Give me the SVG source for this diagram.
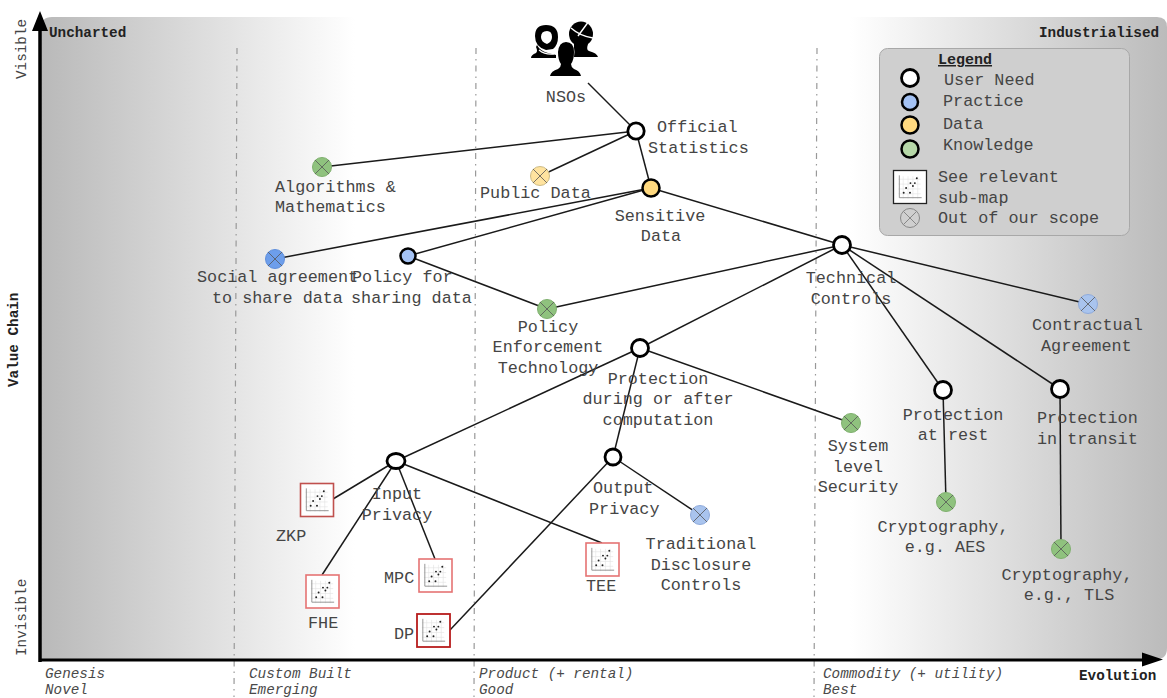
<svg xmlns="http://www.w3.org/2000/svg" width="1167" height="698" viewBox="0 0 1167 698">
<style>
text{font-family:"Liberation Mono","DejaVu Sans Mono",monospace;font-size:16.8px;fill:#454545}
.s{font-size:14.3px}
.b{font-size:14.3px;font-weight:bold;fill:#222}
.i{font-size:14.3px;font-style:italic;fill:#4a4a4a}
.m{text-anchor:middle}
.c{stroke:#1a1a1a;stroke-width:1.5;fill:none}
.d{stroke:#999;stroke-width:1.2;stroke-dasharray:6 5 1.5 5;fill:none}
.u{fill:#fff;stroke:#000;stroke-width:2.8}
.gk{fill:#8fc27e;stroke:#7fb06e}
.bk{fill:#a9c4ee;stroke:#8fabdc}
.bd{fill:#6d9eeb;stroke:#5f8fdc}
.yk{fill:#ffe39f;stroke:#cdbb86}
.xl{stroke:#555;stroke-width:.8;fill:none}
</style>
<defs>
<linearGradient id="gl" x1="0" x2="1" y1="0" y2="0"><stop offset="0" stop-color="#b9b9b9"/><stop offset="1" stop-color="#fff"/></linearGradient>
<linearGradient id="gr" x1="0" x2="1" y1="0" y2="0"><stop offset="0" stop-color="#fff"/><stop offset="1" stop-color="#bbb"/></linearGradient>
<symbol id="plot" viewBox="0 0 34 34">
<rect x="0" y="0" width="34" height="34" fill="#fff"/>
<path d="M5 9H28M5 14H28M5 19H28M5 24H28M10 6V29M15 6V29M20 6V29M25 6V29" stroke="#e2e2e2" stroke-width=".6" fill="none"/>
<path d="M6 5V28H29" stroke="#888" stroke-width=".9" fill="none"/>
<g fill="#222"><circle cx="10.500" cy="23" r="1"/><circle cx="17" cy="23" r="1"/><circle cx="13" cy="18" r="1"/><circle cx="20" cy="16" r="1"/><circle cx="17.500" cy="13" r="1"/><circle cx="22" cy="13" r="1"/><circle cx="24" cy="8" r="1"/></g>
</symbol>
<g id="xm"><path class="xl" d="M-7 -7L7 7M-7 7L7 -7"/></g>
</defs>

<g id="background">
<path d="M52 17H355V659H41V28Q41 17 52 17Z" fill="url(#gl)"/>
<path d="M850 17H1157Q1167 17 1167 27V648Q1167 659 1157 659H850Z" fill="url(#gr)"/>
<path class="d" d="M237 48L234 697"/>
<path class="d" d="M476 48L474 697"/>
<path class="d" d="M817 48L814 697"/>
</g>

<g id="axes">
<path d="M40 662V28" stroke="#000" stroke-width="3.500" fill="none"/>
<path d="M40 11L32 31H48Z" fill="#000"/>
<path d="M39 660H1146" stroke="#000" stroke-width="3" fill="none"/>
<path d="M1163 659.500L1142 652.500V666.500Z" fill="#000"/>
<text class="s" transform="translate(26 79) rotate(-90)">Visible</text>
<text class="b" transform="translate(18 387) rotate(-90)">Value Chain</text>
<text class="s" transform="translate(26 656) rotate(-90)">Invisible</text>
<text class="b" x="49" y="37">Uncharted</text>
<text class="b" x="1039" y="37">Industrialised</text>
<text class="b" x="1079" y="680">Evolution</text>
<text class="i" x="45" y="678">Genesis</text>
<text class="i" x="45" y="694">Novel</text>
<text class="i" x="249" y="678">Custom Built</text>
<text class="i" x="249" y="694">Emerging</text>
<text class="i" x="479" y="678">Product (+ rental)</text>
<text class="i" x="479" y="694">Good</text>
<text class="i" x="823" y="678">Commodity (+ utility)</text>
<text class="i" x="823" y="694">Best</text>
</g>

<g id="connectors">
<path class="c" d="M588 83L636 131"/>
<path class="c" d="M636 131L322 167"/>
<path class="c" d="M636 131L540 176"/>
<path class="c" d="M636 131L651 188"/>
<path class="c" d="M651 188L275 259"/>
<path class="c" d="M651 188L408 256"/>
<path class="c" d="M651 188L842 245"/>
<path class="c" d="M408 256L547 309"/>
<path class="c" d="M547 309L842 245"/>
<path class="c" d="M842 245L640 348"/>
<path class="c" d="M842 245L943 390"/>
<path class="c" d="M842 245L1060 389"/>
<path class="c" d="M842 245L1088 304"/>
<path class="c" d="M640 348L396 461"/>
<path class="c" d="M640 348L613 457"/>
<path class="c" d="M640 348L851 423"/>
<path class="c" d="M396 461L333 499"/>
<path class="c" d="M396 461L322 575"/>
<path class="c" d="M396 461L435 559"/>
<path class="c" d="M396 461L602 543"/>
<path class="c" d="M613 457L450 630"/>
<path class="c" d="M613 457L700 515"/>
<path class="c" d="M943 390L946 502"/>
<path class="c" d="M1060 389L1061 549"/>
</g>

<g id="nsos">
<g fill="#000">
<ellipse cx="581" cy="34" rx="12" ry="12.500"/>
<path d="M574 44L588 44Q586 50 589 51Q597 53 598 57H574V44Z"/>
<path fill-rule="evenodd" d="M546 25Q558 25 558 37Q558 45 553 49L546 50Q535 47 535 36Q535 25 546 25ZM547 31Q541 31 541 37Q541 42 547 44Q552 42 552 37Q552 31 547 31Z"/>
<path d="M537 45Q540 51 548 53L556 55V58H531Q531 55 536 53Q538 51 536 47Z"/>
</g>
<path d="M589 21L578 36M571 28Q580 36 593 38" stroke="#fff" stroke-width="1.400" fill="none"/>
<path d="M539 50Q545 55 554 54" stroke="#fff" stroke-width="1.100" fill="none"/>
<path d="M550 76Q551 71 558 69Q561 67 561 64Q558 60 558 52Q559 42 566 42Q574 42 574 52Q574 60 571 64Q571 67 574 69Q580 71 581 76Z" fill="#000" stroke="#fff" stroke-width="1" paint-order="stroke"/>
<text class="m" x="566" y="102">NSOs</text>
</g>

<g id="official-statistics"><circle class="u" cx="636" cy="131" r="8.200"/>
<text x="657" y="132">Official</text><text x="648" y="153">Statistics</text></g>

<g id="algorithms"><circle class="gk" cx="322" cy="167" r="9.500"/><use href="#xm" x="322" y="167"/>
<text x="275" y="192">Algorithms &amp;</text><text x="275" y="212">Mathematics</text></g>

<g id="public-data"><circle class="yk" cx="540" cy="176" r="9.500"/><use href="#xm" x="540" y="176"/>
<text x="480" y="198">Public Data</text></g>

<g id="sensitive-data"><circle cx="651" cy="188" r="8.500" fill="#ffd97f" stroke="#000" stroke-width="2.500"/>
<text class="m" x="660" y="221">Sensitive</text><text class="m" x="661" y="241">Data</text></g>

<g id="social-agreement"><circle class="bd" cx="275" cy="259" r="9.500"/><use href="#xm" x="275" y="259"/>
<text x="197" y="282">Social agreement</text><text x="212" y="303">to share data</text></g>

<g id="policy-sharing"><circle cx="408" cy="256" r="7.500" fill="#a4c2f4" stroke="#000" stroke-width="2.500"/>
<text x="352" y="282">Policy for</text><text x="351" y="303">sharing data</text></g>

<g id="policy-enforcement"><circle class="gk" cx="547" cy="309" r="9.500"/><use href="#xm" x="547" y="309"/>
<text class="m" x="548" y="332">Policy</text><text class="m" x="548" y="352">Enforcement</text><text class="m" x="548" y="373">Technology</text></g>

<g id="technical-controls"><circle class="u" cx="842" cy="245" r="8.500"/>
<text class="m" x="851" y="283">Technical</text><text class="m" x="851" y="304">Controls</text></g>

<g id="contractual"><circle class="bk" cx="1088" cy="304" r="9.500"/><use href="#xm" x="1088" y="304"/>
<text x="1032" y="330">Contractual</text><text x="1041" y="351">Agreement</text></g>

<g id="protection-during"><circle class="u" cx="640" cy="348" r="8.500"/>
<text class="m" x="658" y="384">Protection</text><text class="m" x="658" y="404">during or after</text><text class="m" x="658" y="425">computation</text></g>

<g id="system-security"><circle class="gk" cx="851" cy="423" r="9.500"/><use href="#xm" x="851" y="423"/>
<text class="m" x="858" y="451">System</text><text class="m" x="858" y="472">level</text><text class="m" x="858" y="492">Security</text></g>

<g id="protection-rest"><circle class="u" cx="943" cy="390" r="8.500"/>
<text class="m" x="953" y="420">Protection</text><text class="m" x="953" y="440">at rest</text></g>

<g id="protection-transit"><circle class="u" cx="1060" cy="389" r="8.500"/>
<text x="1037" y="423">Protection</text><text x="1037" y="444">in transit</text></g>

<g id="crypto-aes"><circle class="gk" cx="946" cy="502" r="9.500"/><use href="#xm" x="946" y="502"/>
<text class="m" x="943" y="532">Cryptography,</text><text class="m" x="945" y="552">e.g. AES</text></g>

<g id="crypto-tls"><circle class="gk" cx="1061" cy="549" r="9.500"/><use href="#xm" x="1061" y="549"/>
<text class="m" x="1067" y="580">Cryptography,</text><text class="m" x="1069" y="600">e.g., TLS</text></g>

<g id="input-privacy"><ellipse class="u" cx="396" cy="461" rx="9" ry="7.500"/>
<text class="m" x="397" y="499">Input</text><text class="m" x="397" y="520">Privacy</text></g>

<g id="output-privacy"><circle class="u" cx="613" cy="457" r="8"/>
<text x="593" y="493">Output</text><text x="589" y="514">Privacy</text></g>

<g id="traditional"><circle class="bk" cx="700" cy="515" r="9.500"/><use href="#xm" x="700" y="515"/>
<text class="m" x="701" y="549">Traditional</text><text class="m" x="701" y="570">Disclosure</text><text class="m" x="701" y="590">Controls</text></g>

<g id="zkp"><use href="#plot" x="300.500" y="483.500" width="33" height="33"/><rect x="300.500" y="483.500" width="33" height="33" fill="none" stroke="#c0504d" stroke-width="1.600"/>
<text x="276" y="541">ZKP</text></g>
<g id="fhe"><use href="#plot" x="306" y="575" width="33" height="33"/><rect x="306" y="575" width="33" height="33" fill="none" stroke="#e57373" stroke-width="1.600"/>
<text x="308" y="628">FHE</text></g>
<g id="mpc"><use href="#plot" x="419" y="559" width="33" height="33"/><rect x="419" y="559" width="33" height="33" fill="none" stroke="#e57373" stroke-width="1.600"/>
<text x="384" y="583">MPC</text></g>
<g id="dp"><use href="#plot" x="417" y="614" width="33" height="33"/><rect x="417" y="614" width="33" height="33" fill="none" stroke="#b71c1c" stroke-width="1.800"/>
<text x="394" y="639">DP</text></g>
<g id="tee"><use href="#plot" x="586" y="543" width="33" height="33"/><rect x="586" y="543" width="33" height="33" fill="none" stroke="#e57373" stroke-width="1.600"/>
<text x="586" y="591">TEE</text></g>

<g id="legend">
<rect x="879.500" y="48.500" width="250" height="187" rx="8" fill="#cfcfcf" stroke="#a8a8a8"/>
<text x="938" y="64" font-weight="bold" text-decoration="underline" style="font-size:15px;fill:#222">Legend</text>
<circle class="u" cx="910" cy="78" r="8.500"/><text x="944" y="85">User Need</text>
<circle cx="910" cy="102" r="8" fill="#a4c2f4" stroke="#000" stroke-width="2.500"/><text x="943" y="106">Practice</text>
<circle cx="910" cy="125" r="8.500" fill="#ffd97f" stroke="#000" stroke-width="2.500"/><text x="943" y="129">Data</text>
<circle cx="910" cy="149" r="8.500" fill="#b6d7a8" stroke="#000" stroke-width="2.500"/><text x="943" y="150">Knowledge</text>
<use href="#plot" x="893.500" y="170.500" width="33" height="33"/><rect x="893.500" y="170.500" width="33" height="33" fill="none" stroke="#222" stroke-width="1.300"/>
<text x="938" y="182">See relevant</text><text x="938" y="203">sub-map</text>
<circle cx="910" cy="218" r="9.500" fill="none" stroke="#888" stroke-width="1"/><path d="M903.300 211.300L916.700 224.700M903.300 224.700L916.700 211.300" stroke="#888" stroke-width="1" fill="none"/>
<text x="938" y="223">Out of our scope</text>
</g>
</svg>
